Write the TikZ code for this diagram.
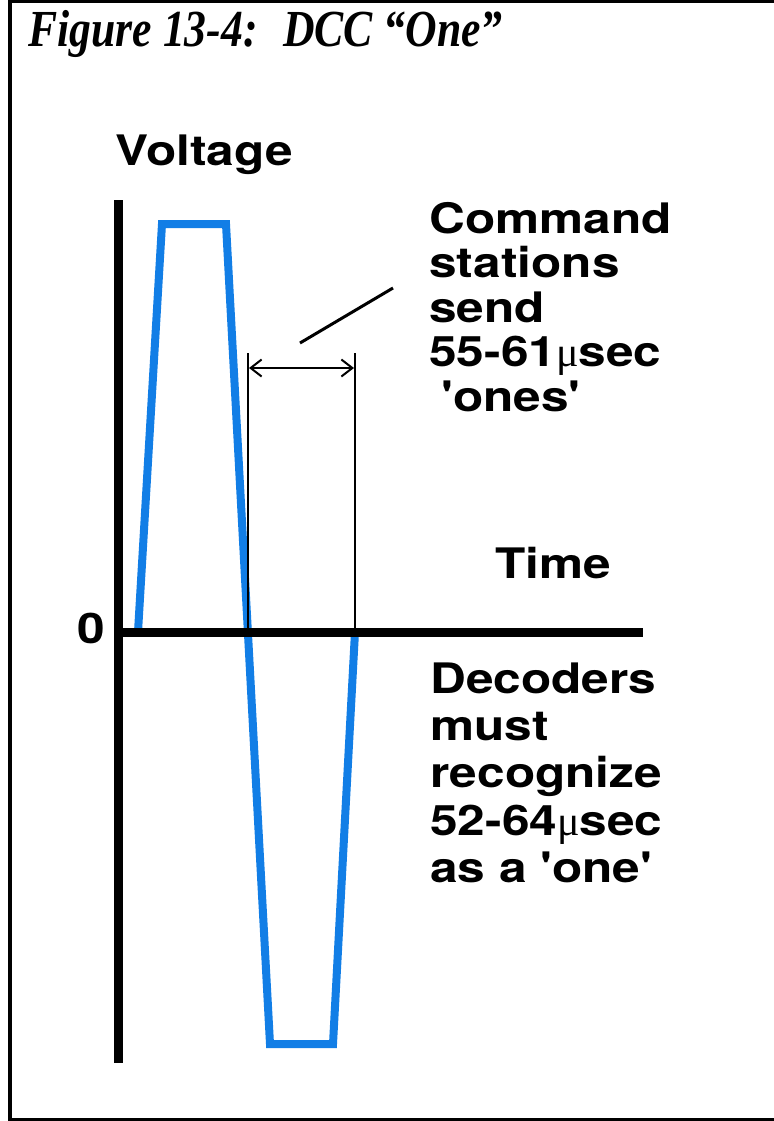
\documentclass[tikz,border=0pt]{standalone}
\usepackage{fontspec}
\usetikzlibrary{arrows.meta}
\newfontfamily\titlefont{Liberation Serif}[Ligatures=TeXOff,FakeStretch=0.84]
\newfontfamily\lblfont{TeX Gyre Heros}[Ligatures=TeXOff,FakeStretch=1.18]
\newfontfamily\mufont{Liberation Serif}
\definecolor{pulseblue}{RGB}{18,126,230}
\newcommand{\mus}{{\mufont\mdseries μ}}
\tikzset{
  frame/.style={line width=1.6pt, line join=miter},
  axis/.style={line width=4.5pt},
  pulse/.style={pulseblue, line width=4pt, line join=miter},
  marker/.style={line width=1pt},
  leader/.style={line width=1.5pt},
  lbl/.style={anchor=base west, inner sep=0pt, font=\lblfont\bfseries\fontsize{21}{21}\selectfont},
  ttl/.style={anchor=base west, inner sep=0pt, font=\titlefont\bfseries\itshape\fontsize{26}{26}\selectfont}
}
\begin{document}
\begin{tikzpicture}[x=0.5pt,y=-0.5pt]
\useasboundingbox (0,0) rectangle (774,1121);
\fill[white] (0,0) rectangle (774,1121);

% page frame: top, left and bottom edges
\draw[frame] (774,1.6) -| (10,1119.4) -- (774,1119.4);

% title
\node[ttl] (title) at (28,46) {Figure 13-4:~ DCC “One”};

% key points of the waveform
\coordinate (origin) at (118,632);
\coordinate (ytop) at (118,200);
\coordinate (ybot) at (118,1063);
\coordinate (xend) at (643,632);
\coordinate (cross1) at (248,632);
\coordinate (cross2) at (355,632);
\coordinate (mark1) at (248,353);
\coordinate (mark2) at (355,353);
\coordinate (arrowL) at (249,368);
\coordinate (arrowR) at (354,368);
\coordinate (leadA) at (300,343);
\coordinate (leadB) at (393,288);

% the "one" bit: positive then negative half
\draw[pulse] (138,632) -- (162,224) -- (226,224) -- (270,1044) -- (333,1044) -- (cross2);

% axes
\draw[axis] (ytop) -- (ybot);
\draw[axis] (origin) -- (xend);

% period markers and dimension arrow
\draw[marker] (mark1) -- (cross1);
\draw[marker] (mark2) -- (cross2);
\draw[marker, {Straight Barb[length=5.5pt,width=8.5pt]}-{Straight Barb[length=5.5pt,width=8.5pt]}] (arrowL) -- (arrowR);
\draw[leader] (leadA) -- (leadB);

% axis labels
\node[lbl] (voltage) at (115,165) {Voltage};
\node[lbl] (zero) at (77,643) {0};
\node[lbl] (time) at (495,578) {Time};

% command station note
\node[lbl] (cmd1) at (429,233) {Command};
\node[lbl] (cmd2) at (429,277.5) {stations};
\node[lbl] (cmd3) at (429,322) {send};
\node[lbl] (cmd4) at (429,366.5) {55-61\mus sec};
\node[lbl] (cmd5) at (441,411) {'ones'};

% decoder note
\node[lbl] (dec1) at (430,693) {Decoders};
\node[lbl] (dec2) at (430,740) {must};
\node[lbl] (dec3) at (430,787) {recognize};
\node[lbl] (dec4) at (430,835) {52-64\mus sec};
\node[lbl] (dec5) at (430,882) {as a 'one'};
\end{tikzpicture}
\end{document}
